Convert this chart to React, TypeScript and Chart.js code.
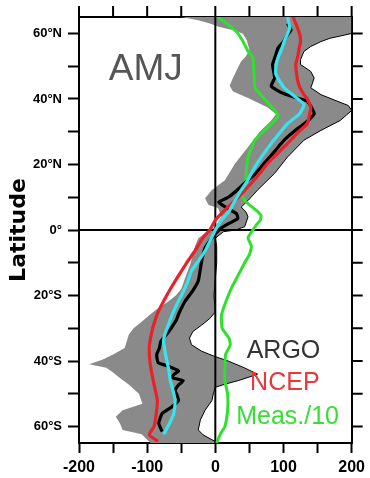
import React, { useEffect, useRef } from "react";
import { Chart, registerables } from "chart.js";

Chart.register(...registerables);

// ---------- data (x = value, y = latitude) ----------
const argoLat = [-61.5, -59, -56, -54, -52, -50, -49, -47.5, -46, -45, -44, -43, -41.5, -40.5, -38, -36, -34, -32, -30, -27.4, -25.7, -21.6, -18.5, -15.5, -9.4, -5.5, -2.4, -0.5, 0.5, 2, 3.5, 5, 7, 8.5, 10, 12, 14.3, 17, 20.4, 24, 27.4, 30.5, 33.2, 35.5, 37, 39.3, 40.5, 42, 43.9, 46.4, 50.5, 53, 55.5, 57.5, 59.6, 61, 63];
const argoVal = [-78, -83, -78, -64, -54, -57, -59, -55, -47, -64, -60, -54, -70, -84, -86, -82, -80, -72, -65, -57, -54, -44, -33, -25, -20, -15, -5, 3, 8, 20, 33, 31, 15, 5, 19, 31, 43, 58, 72, 87, 101, 118, 135, 145, 142, 135, 116, 96, 82, 87, 84, 88, 92, 100, 106, 111, 106];

const ncepLat = [-64.5, -62.5, -60, -58, -55, -52, -48, -44, -40, -36, -33, -30, -28, -25.5, -21, -18, -14.6, -10, -6.4, -2, 0, 3, 7.1, 10, 13.2, 16.5, 20.4, 23.5, 26.4, 29.5, 32.5, 35, 37.4, 40, 41.3, 43.5, 45.4, 48, 50.5, 53, 55.5, 57.5, 59.6, 62, 65];
const ncepVal = [-84, -97, -90, -88, -86, -85, -89, -93, -96, -97, -95, -92, -89, -85, -74, -66, -56, -42, -30, -17, -8, 0, 19, 34, 48, 62, 77, 92, 106, 120, 135, 138, 140, 135, 130, 124, 121, 119, 118, 121, 123, 125, 124, 120, 114];

const cyanLat = [-62.3, -61.3, -58.5, -56, -52, -49, -46, -43, -40, -38, -34, -31.8, -29, -25.7, -22.5, -19.7, -16, -12.5, -9.5, -6.4, -3, 0, 3, 6, 9, 12.2, 15, 19.2, 23, 26.4, 29.5, 32.5, 35.3, 38.3, 40.8, 43.4, 47.4, 50, 52.6, 55, 57.5, 61.6, 65];
const cyanVal = [-76, -73, -66, -61, -59, -62, -66, -68, -71, -73, -76, -74, -69, -63, -56, -49, -41, -35, -25, -15, -7, 0, 9, 21, 29, 38, 47, 58, 70, 82, 94, 106, 123, 130, 116, 101, 89, 89, 92, 97, 101, 109, 106];

const measLat = [-65, -62, -60, -55, -50, -46, -42, -38, -35, -33, -30, -26, -22.7, -20, -17.6, -14, -10, -7.5, -5, -2.4, 0, 1.5, 3, 4.5, 6, 8, 10, 11.2, 13, 16, 19, 22.3, 25, 27.4, 30, 33.4, 35, 37, 40, 43.5, 47, 50, 52.6, 54.5, 57, 60, 62.5, 65];
const measVal = [2, 8, 14, 18, 18, 14, 14, 15, 22, 20, 10, 9, 14, 19, 24, 33, 43, 50, 53, 48, 55, 60, 66, 67, 60, 48, 40, 38, 43, 45, 46, 48, 53, 58, 70, 87, 92, 85, 72, 58, 57, 56, 55, 48, 42, 33, 20, 4];

// ARGO spread (grey band): lower and upper bounds
const spreadLowLat = [-65, -64, -62.3, -61, -59, -57, -55, -53, -50, -47, -45, -43.5, -42, -41, -39.5, -38, -36, -34, -32, -30, -28, -26, -24, -22, -20, -18, -15, -10, -5, -2.5, 0, 1, 4, 6.7, 7.6, 9.7, 12.2, 15.2, 20.3, 25.3, 30, 33.4, 35.3, 37.4, 40.3, 42.3, 44, 46, 49.5, 51.5, 53, 55, 58, 60, 61, 62, 63, 64, 65];
const spreadLowVal = [-95, -100, -108, -136, -140, -146, -136, -107, -112, -128, -141, -150, -160, -185, -165, -150, -133, -130, -127, -120, -108, -97, -85, -70, -58, -50, -45, -36, -30, -25, -8, 0, 9, 4, -10, -15, -5, 14, 29, 48, 65, 82, 89, 77, 48, 26, 21, 25, 33, 38, 45, 50, 46, 40, 25, 5, -8, -25, -50];
const spreadHighLat = [-65, -64, -62.5, -61, -58, -55, -52, -50, -48, -47, -46, -45, -44, -42, -40, -38.5, -37, -35, -33, -31, -29, -27, -25, -20, -15, -10, -5, -2.5, -0.5, 0, 1, 4, 5.5, 7, 9, 12.2, 17.3, 22.3, 27.4, 30.4, 33.4, 35, 36.5, 38, 39.3, 41.3, 43.4, 44.5, 46.4, 48.4, 50.5, 52, 54.5, 56, 57.5, 58.5, 59.5, 60, 65];
const spreadHighVal = [5, -5, -18, -25, -22, -15, -5, -3, 0, 15, 33, 48, 62, 42, 19, -2, -20, -35, -38, -33, -20, -8, 0, -2, 0, 2, 2, 0, 12, 30, 43, 48, 45, 38, 48, 62, 87, 106, 130, 155, 183, 192, 200, 195, 179, 155, 140, 142, 145, 140, 125, 125, 130, 140, 155, 168, 190, 200, 200];

// axes
const xRange = [-200, 200];
const latRange = [-65, 65];
const xTickValues = [-200, -150, -100, -50, 0, 50, 100, 150, 200];
const xTickLabels = ["-200", "", "-100", "", "0", "", "100", "", "200"];
const yTickValues = [-60, -50, -40, -30, -20, -10, 0, 10, 20, 30, 40, 50, 60];
const yTickLabels = ["60°S", "", "40°S", "", "20°S", "", "0°", "", "20°N", "", "40°N", "", "60°N"];

// in-panel texts
const panelTexts = [
  { text: "AMJ", x: -102, y: 49, size: 37, color: "#555555" },
  { text: "ARGO", x: 100, y: -37, size: 25, color: "#333333" },
  { text: "NCEP", x: 102, y: -46.7, size: 25, color: "#e8383c" },
  { text: "Meas./10", x: 106, y: -57, size: 25, color: "#38dd38" },
];

const pts = (lat: number[], val: number[]) => lat.map((l, i) => ({ x: val[i], y: l }));

// outward tick marks on the top and right frame (at the scales' tick positions) + in-panel texts
const overlayPlugin = {
  id: "overlay",
  afterDatasetsDraw(chart: any) {
    const { ctx, chartArea, scales } = chart;
    const len = 11;
    ctx.save();
    ctx.strokeStyle = "#000";
    ctx.lineWidth = 2;
    ctx.beginPath();
    const top = scales.xTop || scales.x;
    const right = scales.yRight || scales.y;
    for (const t of top.ticks) {
      const px = top.getPixelForValue(t.value);
      ctx.moveTo(px, chartArea.top - 1);
      ctx.lineTo(px, chartArea.top - len);
    }
    for (const t of right.ticks) {
      const py = right.getPixelForValue(t.value);
      ctx.moveTo(chartArea.right + 1, py);
      ctx.lineTo(chartArea.right + len, py);
    }
    ctx.stroke();

    ctx.textAlign = "center";
    ctx.textBaseline = "middle";
    for (const a of panelTexts) {
      ctx.font = `${a.size}px "Liberation Sans", Arial, sans-serif`;
      ctx.fillStyle = a.color;
      ctx.fillText(a.text, scales.x.getPixelForValue(a.x), scales.y.getPixelForValue(a.y));
    }
    ctx.restore();
  },
};

export default function App() {
  const ref = useRef<HTMLCanvasElement | null>(null);

  useEffect(() => {
    if (!ref.current) return;
    Chart.defaults.font.family = '"Liberation Sans", Arial, sans-serif';
    const line = (data: any, color: string, width: number, order: number, extra: any = {}) => ({
      data,
      borderColor: color,
      borderWidth: width,
      pointRadius: 0,
      fill: false,
      tension: 0.15,
      order,
      xAxisID: "x",
      yAxisID: "y",
      ...extra,
    });
    const tickGrid = (len: number) => ({
      display: true,
      drawOnChartArea: false,
      drawTicks: true,
      tickLength: len,
      tickColor: "#000",
      tickWidth: 2,
      color: "#000",
    });
    const border = { display: true, color: "#000", width: 2 };

    const chart = new Chart(ref.current, {
      type: "line",
      data: {
        datasets: [
          line(pts(spreadLowLat, spreadLowVal), "rgba(0,0,0,0)", 0, 7, { tension: 0 }),
          line(pts(spreadHighLat, spreadHighVal), "#000000", 1, 6, {
            tension: 0,
            fill: "-1",
            backgroundColor: "#8a8a8a",
          }),
          line([{ x: 0, y: latRange[0] }, { x: 0, y: latRange[1] }], "#000000", 2, 5, { tension: 0 }),
          line([{ x: xRange[0], y: 0 }, { x: xRange[1], y: 0 }], "#000000", 2, 5, { tension: 0 }),
          line(pts(measLat, measVal), "#2fe02f", 3, 4),
          line(pts(argoLat, argoVal), "#000000", 3.2, 3),
          line(pts(ncepLat, ncepVal), "#e82228", 3.2, 2),
          line(pts(cyanLat, cyanVal), "#36e4ef", 3.2, 1),
        ],
      },
      options: {
        responsive: false,
        animation: false,
        indexAxis: "y",
        layout: { padding: 0, autoPadding: false },
        plugins: { legend: { display: false }, tooltip: { enabled: false } },
        scales: {
          x: {
            type: "linear",
            position: "bottom",
            min: xRange[0],
            max: xRange[1],
            afterBuildTicks: (s: any) => {
              s.ticks = xTickValues.map((v) => ({ value: v }));
            },
            afterFit: (s: any) => {
              s.height = 35;
            },
            ticks: {
              autoSkip: false,
              maxRotation: 0,
              padding: 5,
              color: "#000",
              font: { size: 16, weight: "bold" },
              callback: (_v: any, i: number) => xTickLabels[i],
            },
            grid: tickGrid(10),
            border,
          },
          xTop: {
            type: "linear",
            axis: "x",
            position: "top",
            min: xRange[0],
            max: xRange[1],
            afterBuildTicks: (s: any) => {
              s.ticks = xTickValues.map((v) => ({ value: v }));
            },
            afterFit: (s: any) => {
              s.height = 17;
            },
            ticks: { display: false },
            grid: { display: false },
            border,
          },
          y: {
            type: "linear",
            position: "left",
            min: latRange[0],
            max: latRange[1],
            afterBuildTicks: (s: any) => {
              s.ticks = yTickValues.map((v) => ({ value: v }));
            },
            afterFit: (s: any) => {
              s.width = 79;
            },
            ticks: {
              autoSkip: false,
              padding: 6,
              color: "#000",
              font: { size: 13, weight: "bold" },
              callback: (_v: any, i: number) => yTickLabels[i],
            },
            grid: tickGrid(11),
            border,
            title: {
              display: true,
              text: "Latitude",
              color: "#000",
              font: { family: '"DejaVu Sans", sans-serif', size: 22, weight: "bold" },
              padding: { top: 6, bottom: 0 },
            },
          },
          yRight: {
            type: "linear",
            axis: "y",
            position: "right",
            min: latRange[0],
            max: latRange[1],
            afterBuildTicks: (s: any) => {
              s.ticks = yTickValues.map((v) => ({ value: v }));
            },
            afterFit: (s: any) => {
              s.width = 15;
            },
            ticks: { display: false },
            grid: { display: false },
            border,
          },
        },
      } as any,
      plugins: [overlayPlugin],
    });
    return () => chart.destroy();
  }, []);

  return (
    <div style={{ position: "absolute", left: 0, top: 0, width: 370, height: 478, background: "#fff" }}>
      <canvas ref={ref} width={370} height={478} />
    </div>
  );
}
